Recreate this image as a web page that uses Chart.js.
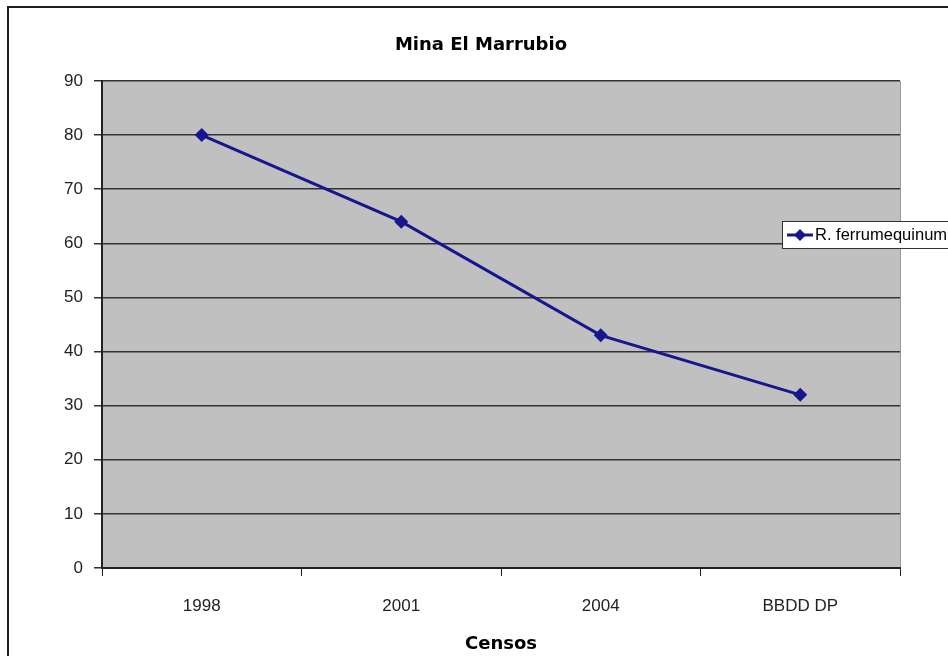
<!DOCTYPE html>
<html>
<head>
<meta charset="utf-8">
<script src="https://cdn.jsdelivr.net/npm/chart.js@4/dist/chart.umd.min.js"></script>
<style>
  html, body { margin: 0; padding: 0; background: #fff; }
  #wrap { width: 948px; height: 656px; position: relative; }
</style>
</head>
<body>
<div id="wrap"><canvas id="censoChart" width="948" height="656"></canvas></div>
<script>
// datos del gráfico
const censos = ['1998', '2001', '2004', 'BBDD DP'];
const ejemplares = [80, 64, 43, 32];
const serieNombre = 'R. ferrumequinum';
const tituloGrafico = 'Mina El Marrubio';
const tituloEjeX = 'Censos';

const colorSerie = '#16168e';

// marco exterior, fondo del área de trazado, título y leyenda
const decoracion = {
    id: 'decoracion',
    beforeDraw(chart) {
        const c = chart.ctx;
        const a = chart.chartArea;
        c.save();
        c.fillStyle = '#ffffff';
        c.fillRect(0, 0, chart.width, chart.height);
        c.strokeStyle = '#1e1e1e';
        c.lineWidth = 2;
        c.strokeRect(8, 7, 1200, 1200);
        c.fillStyle = '#c0c0c0';
        c.fillRect(a.left, a.top, a.right - a.left, a.bottom - a.top);
        c.strokeStyle = '#9a9a9a';
        c.lineWidth = 1;
        c.beginPath();
        c.moveTo(a.right + 0.5, a.top);
        c.lineTo(a.right + 0.5, a.bottom);
        c.stroke();
        c.restore();
    },
    afterDraw(chart) {
        const c = chart.ctx;
        c.save();
        // título
        c.fillStyle = '#000';
        c.font = 'bold 18px "DejaVu Sans"';
        c.textAlign = 'center';
        c.textBaseline = 'middle';
        c.fillText(tituloGrafico, 481, 45);

        // leyenda
        const lx = 782, ly = 221, lh = 27;
        c.fillStyle = '#ffffff';
        c.fillRect(lx, ly, 200, lh);
        c.strokeStyle = '#333';
        c.lineWidth = 1;
        c.strokeRect(lx + 0.5, ly + 0.5, 200, lh);
        const my = ly + lh / 2 + 0.5;
        c.strokeStyle = colorSerie;
        c.lineWidth = 3;
        c.beginPath();
        c.moveTo(787, my);
        c.lineTo(813, my);
        c.stroke();
        c.fillStyle = colorSerie;
        c.beginPath();
        c.moveTo(800, my - 6);
        c.lineTo(806, my);
        c.lineTo(800, my + 6);
        c.lineTo(794, my);
        c.closePath();
        c.fill();
        c.fillStyle = '#000';
        c.font = '16.5px "Liberation Sans", Arial';
        c.textAlign = 'left';
        c.fillText(chart.data.datasets[0].label, 815, my);
        c.restore();
    }
};

const ctx = document.getElementById('censoChart').getContext('2d');
const grafico = new Chart(ctx, {
    type: 'line',
    data: {
        labels: censos,
        datasets: [{
            label: serieNombre,
            data: ejemplares,
            borderColor: colorSerie,
            backgroundColor: colorSerie,
            borderWidth: 3,
            tension: 0,
            pointStyle: 'rectRot',
            pointRadius: 7,
            pointBorderWidth: 0,
            pointBackgroundColor: colorSerie
        }]
    },
    options: {
        responsive: false,
        animation: false,
        devicePixelRatio: 1,
        layout: {
            padding: { left: 0, top: 81, right: 48, bottom: 0 }
        },
        plugins: {
            legend: { display: false },
            title: { display: false },
            tooltip: { enabled: false }
        },
        scales: {
            x: {
                offset: true,
                afterFit: s => { s.height = 88; },
                grid: {
                    offset: true,
                    drawOnChartArea: false,
                    drawTicks: true,
                    tickLength: 8,
                    color: '#222'
                },
                border: { color: '#222', width: 2 },
                ticks: {
                    color: '#222',
                    font: { family: '"Liberation Sans", Arial', size: 17 },
                    padding: 20,
                    maxRotation: 0
                },
                title: {
                    display: true,
                    text: tituloEjeX,
                    color: '#000',
                    font: { family: '"DejaVu Sans"', size: 18, weight: 'bold' },
                    padding: { top: 0, bottom: 1 }
                }
            },
            y: {
                min: 0,
                max: 90,
                afterFit: s => { s.width = 102; },
                grid: {
                    color: '#333',
                    lineWidth: 1.5,
                    tickLength: 8,
                    drawTicks: true
                },
                border: { color: '#222', width: 2 },
                ticks: {
                    stepSize: 10,
                    color: '#222',
                    font: { family: '"Liberation Sans", Arial', size: 17 },
                    padding: 11
                }
            }
        }
    },
    plugins: [decoracion]
});
</script>
</body>
</html>
